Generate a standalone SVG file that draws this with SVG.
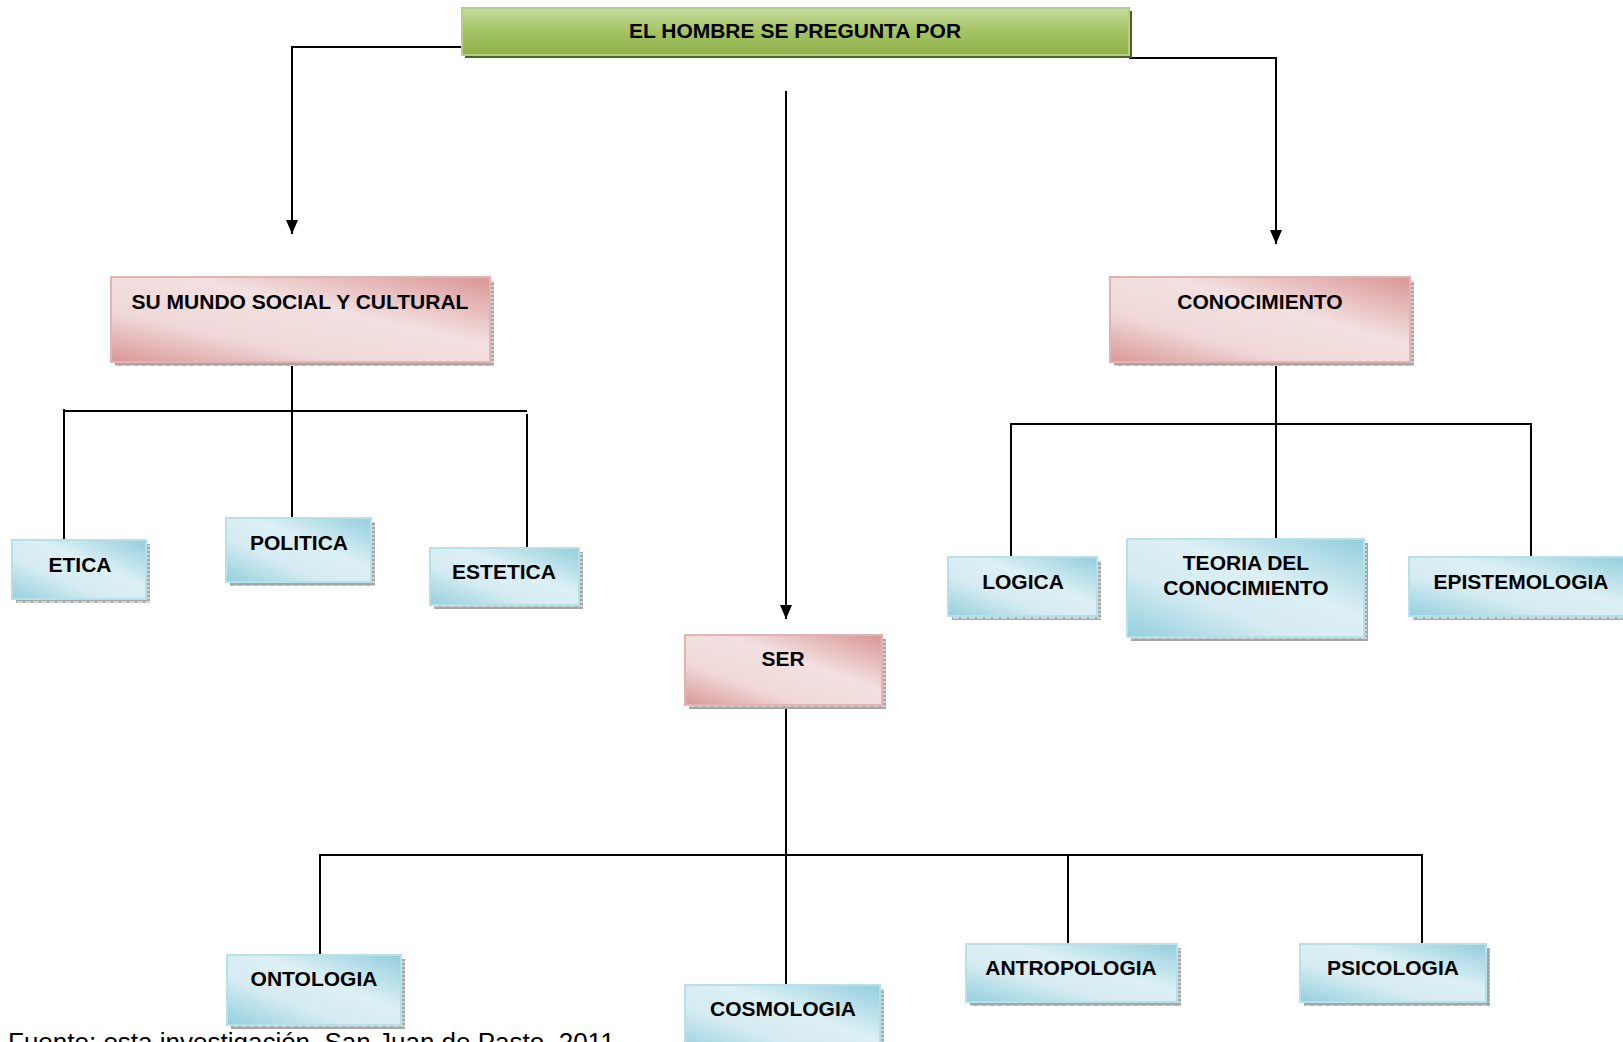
<svg xmlns="http://www.w3.org/2000/svg" width="1623" height="1042" viewBox="0 0 1623 1042">
<defs>
<linearGradient id="gGreen" x1="0" y1="0" x2="0" y2="1">
<stop offset="0" stop-color="#c6dba0"/>
<stop offset="0.5" stop-color="#a4c463"/>
<stop offset="1" stop-color="#8fb04c"/>
</linearGradient>
<linearGradient id="gPink" x1="0" y1="1" x2="1" y2="0">
<stop offset="0" stop-color="#d99796"/>
<stop offset="0.3" stop-color="#f0d8d8"/>
<stop offset="0.6" stop-color="#f3e0e0"/>
<stop offset="1" stop-color="#d99594"/>
</linearGradient>
<linearGradient id="gBlue" x1="0" y1="1" x2="1" y2="0">
<stop offset="0" stop-color="#93cfdd"/>
<stop offset="0.35" stop-color="#d6ecf2"/>
<stop offset="0.6" stop-color="#dcf0f5"/>
<stop offset="1" stop-color="#92cddc"/>
</linearGradient>
<pattern id="hatch" width="8" height="4" patternUnits="userSpaceOnUse">
<rect width="8" height="4" fill="#a6a6a6"/>
<rect x="1" y="1" width="6" height="2" fill="#d0d0d0"/>
</pattern>
<marker id="arr" markerWidth="14" markerHeight="12" refX="14" refY="6" orient="auto" markerUnits="userSpaceOnUse" viewBox="0 0 14 12">
<path d="M0,0 L14,6 L0,12 Z" fill="#000"/>
</marker>
<style>
.t{font-family:"Liberation Sans",Arial,sans-serif;font-weight:bold;font-size:21px;fill:#000;text-anchor:middle}
.c{fill:none;stroke:#000;stroke-width:2}
.pink{fill:url(#gPink);stroke:#e0b4b3;stroke-width:2}
.blue{fill:url(#gBlue);stroke:#b6e0ea;stroke-width:2}
.sh{fill:url(#hatch)}
</style>
</defs>
<rect width="1623" height="1042" fill="#fff"/>

<g id="connectors">
<path class="c" d="M462,47 H292 V234" marker-end="url(#arr)"/>
<path class="c" d="M786,91 V619" marker-end="url(#arr)"/>
<path class="c" d="M1129,58 H1276 V244" marker-end="url(#arr)"/>
<path class="c" d="M292,362 V518"/>
<path class="c" d="M64,409 V540"/>
<path class="c" d="M64,411 H527"/>
<path class="c" d="M527,414 V548"/>
<path class="c" d="M1276,362 V539"/>
<path class="c" d="M1011,557 V424 H1531 V557"/>
<path class="c" d="M786,705 V985"/>
<path class="c" d="M320,955 V855 H1422 V944"/>
<path class="c" d="M1068,855 V944"/>
</g>

<g id="title">
<rect x="465" y="11" width="667" height="47" fill="#4f6228"/>
<rect x="462" y="8" width="667" height="47" fill="url(#gGreen)" stroke="#b5cf85" stroke-width="2"/>
<text class="t" x="795" y="38">EL HOMBRE SE PREGUNTA POR</text>
</g>

<g id="su-mundo">
<rect class="sh" x="115" y="281" width="379" height="85"/>
<rect class="pink" x="111" y="277" width="379" height="85"/>
<text class="t" x="300" y="309">SU MUNDO SOCIAL Y CULTURAL</text>
</g>

<g id="conocimiento">
<rect class="sh" x="1114" y="281" width="300" height="85"/>
<rect class="pink" x="1110" y="277" width="300" height="85"/>
<text class="t" x="1260" y="309">CONOCIMIENTO</text>
</g>

<g id="ser">
<rect class="sh" x="689" y="639" width="197" height="70"/>
<rect class="pink" x="685" y="635" width="197" height="70"/>
<text class="t" x="783" y="666">SER</text>
</g>

<g id="etica">
<rect class="sh" x="16" y="544" width="134" height="59"/>
<rect class="blue" x="12" y="540" width="134" height="59"/>
<text class="t" x="80" y="572">ETICA</text>
</g>

<g id="politica">
<rect class="sh" x="230" y="522" width="145" height="64"/>
<rect class="blue" x="226" y="518" width="145" height="64"/>
<text class="t" x="299" y="550">POLITICA</text>
</g>

<g id="estetica">
<rect class="sh" x="434" y="552" width="149" height="57"/>
<rect class="blue" x="430" y="548" width="149" height="57"/>
<text class="t" x="504" y="579">ESTETICA</text>
</g>

<g id="logica">
<rect class="sh" x="952" y="561" width="149" height="59"/>
<rect class="blue" x="948" y="557" width="149" height="59"/>
<text class="t" x="1023" y="589">LOGICA</text>
</g>

<g id="teoria">
<rect class="sh" x="1131" y="543" width="237" height="98"/>
<rect class="blue" x="1127" y="539" width="237" height="98"/>
<text class="t" x="1246" y="570">TEORIA DEL</text>
<text class="t" x="1246" y="595">CONOCIMIENTO</text>
</g>

<g id="epistemologia">
<rect class="sh" x="1413" y="561" width="215" height="59"/>
<rect class="blue" x="1409" y="557" width="218" height="59"/>
<text class="t" x="1521" y="589">EPISTEMOLOGIA</text>
</g>

<g id="ontologia">
<rect class="sh" x="231" y="959" width="174" height="70"/>
<rect class="blue" x="227" y="955" width="174" height="70"/>
<text class="t" x="314" y="986">ONTOLOGIA</text>
</g>

<g id="cosmologia">
<rect class="sh" x="689" y="989" width="195" height="70"/>
<rect class="blue" x="685" y="985" width="195" height="70"/>
<text class="t" x="783" y="1016">COSMOLOGIA</text>
</g>

<g id="antropologia">
<rect class="sh" x="970" y="948" width="211" height="58"/>
<rect class="blue" x="966" y="944" width="211" height="58"/>
<text class="t" x="1071" y="975">ANTROPOLOGIA</text>
</g>

<g id="psicologia">
<rect class="sh" x="1304" y="948" width="186" height="58"/>
<rect class="blue" x="1300" y="944" width="186" height="58"/>
<text class="t" x="1393" y="975">PSICOLOGIA</text>
</g>

<text x="8" y="1051" style="font-family:'Liberation Sans',Arial,sans-serif;font-size:26px;fill:#000">Fuente: esta investigación, San Juan de Pasto, 2011</text>
</svg>
